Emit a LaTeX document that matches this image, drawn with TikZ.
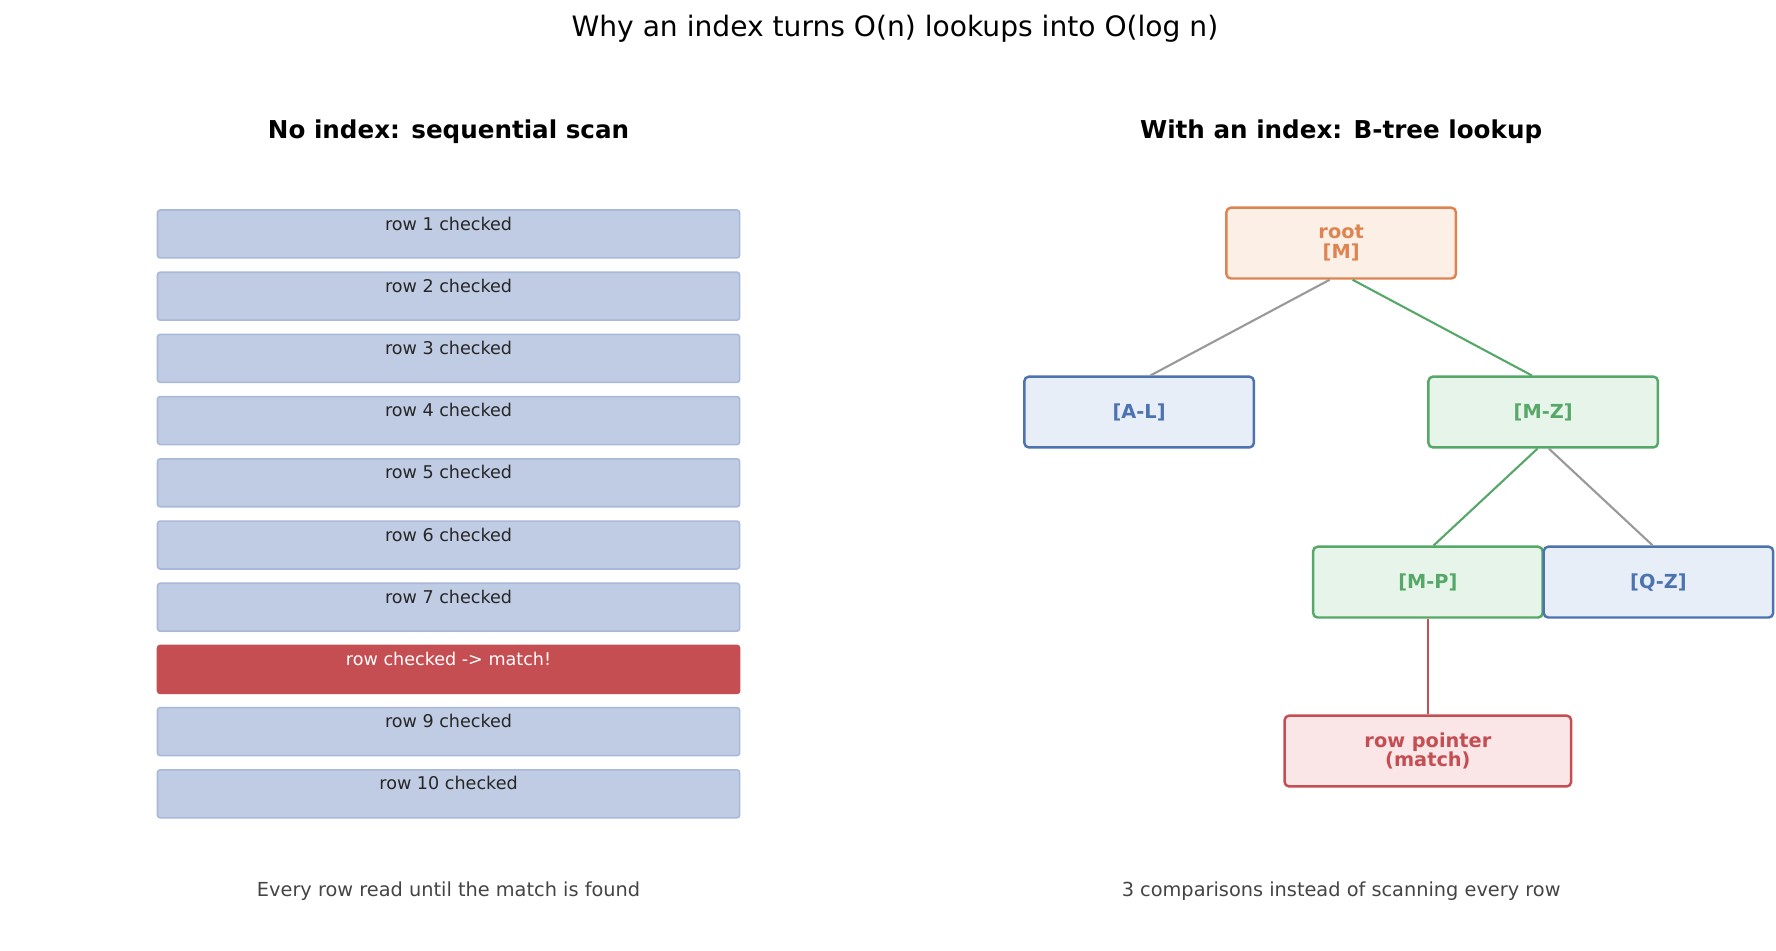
\documentclass[tikz,border=0pt]{standalone}
\usepackage{fontspec}
\setmainfont{DejaVu Sans}
\definecolor{rowfill}{HTML}{C0CCE4}
\definecolor{rowline}{HTML}{A8B8D8}
\definecolor{hitc}{HTML}{C44E52}
\definecolor{hitfill}{HTML}{FAE6E7}
\definecolor{rootc}{HTML}{DD8452}
\definecolor{rootfill}{HTML}{FCF0E6}
\definecolor{bluec}{HTML}{4C72B0}
\definecolor{bluefill}{HTML}{E8EEF8}
\definecolor{greenc}{HTML}{55A868}
\definecolor{greenfill}{HTML}{E6F4EA}
\definecolor{edgegray}{HTML}{999999}
\definecolor{footc}{HTML}{444444}
\tikzset{
  row/.style={draw=rowline, fill=rowfill, line width=0.9pt, rounded corners=1.5pt,
    minimum width=510*0.02283cm, minimum height=42*0.02283cm, inner sep=0pt,
    font=\fontsize{10}{12}\selectfont, text=black!85, text depth=12pt},
  tnode/.style={draw=#1c, fill=#1fill, text=#1c, line width=1.4pt, rounded corners=2.5pt,
    minimum width=201*0.02283cm, minimum height=62*0.02283cm, align=center,
    font=\fontsize{11}{13}\selectfont\bfseries},
  edge/.style={line width=1.2pt}
}
\begin{document}
\begin{tikzpicture}[x=0.02283cm, y=-0.02283cm]

    % Frame
    \useasboundingbox (0,0) rectangle (1556,833);

    % Titles
    \node (title) at (784,25) {\fontsize{16}{19}\selectfont Why an index turns O(n) lookups into O(log n)};
    \node[font=\fontsize{14}{17}\selectfont\bfseries] (lefthead) at (393,115) {No index: sequential scan};
    \node[font=\fontsize{14}{17}\selectfont\bfseries] (righthead) at (1175,115) {With an index: B-tree lookup};

    % Sequential scan rows
    \foreach \i in {1,...,7,9,10} {
        \node[row] (row\i) at (393,{205+54.5*(\i-1)}) {row \i\ checked};
    }
    \node[row, draw=hitc, fill=hitc, text=white] (row8) at (393,{205+54.5*7}) {row checked -> match!};

    % B-tree nodes
    \node[tnode=root] (root) at (1175,213) {root\\[-2pt][M]};
    \node[tnode=blue] (al) at (998,361) {[A-L]};
    \node[tnode=green] (mz) at (1352,361) {[M-Z]};
    \node[tnode=green] (mp) at (1251,510) {[M-P]};
    \node[tnode=blue] (qz) at (1453,510) {[Q-Z]};
    \node[tnode=hit, minimum width=251*0.02283cm] (ptr) at (1251,658) {row pointer\\[-2pt](match)};

    % Edges
    \draw[edge, edgegray] ([xshift=-10*0.02283cm]root.south) -- ([xshift=10*0.02283cm]al.north);
    \draw[edge, greenc] ([xshift=10*0.02283cm]root.south) -- ([xshift=-10*0.02283cm]mz.north);
    \draw[edge, greenc] ([xshift=-5*0.02283cm]mz.south) -- ([xshift=5*0.02283cm]mp.north);
    \draw[edge, edgegray] ([xshift=5*0.02283cm]mz.south) -- ([xshift=-5*0.02283cm]qz.north);
    \draw[edge, hitc] (mp.south) -- (ptr.north);

    % Footers
    \node[text=footc, font=\fontsize{11}{13}\selectfont] (leftfoot) at (393,781) {Every row read until the match is found};
    \node[text=footc, font=\fontsize{11}{13}\selectfont] (rightfoot) at (1175,781) {3 comparisons instead of scanning every row};

\end{tikzpicture}
\end{document}
